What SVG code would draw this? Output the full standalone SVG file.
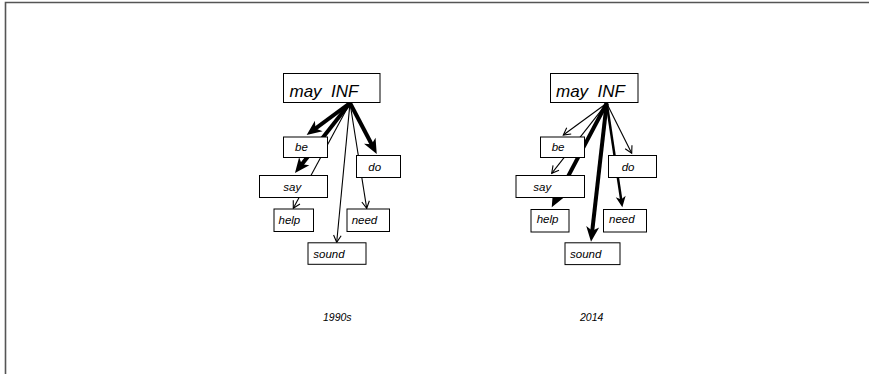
<svg xmlns="http://www.w3.org/2000/svg" width="869" height="374" viewBox="0 0 869 374">
<style>
  .frame{stroke:#555;stroke-width:1.6;fill:none}
  .box{fill:#fff;stroke:#000;stroke-width:1}
  .lbl{font-family:"Liberation Sans",Arial,sans-serif;font-style:italic;font-size:11.5px;fill:#000}
  .big{font-size:17px}
  .cap{font-family:"Liberation Sans",Arial,sans-serif;font-style:italic;font-size:10.5px;fill:#000}
  .thin{stroke:#000;stroke-width:1.1;fill:none;marker-end:url(#hThin)}
  .med{stroke:#000;stroke-width:2.5;fill:none;marker-end:url(#hMed)}
  .thick{stroke:#000;stroke-width:4;fill:none;marker-end:url(#hThick)}
</style>
<defs>
  <marker id="hThin" markerUnits="userSpaceOnUse" markerWidth="30" markerHeight="30" viewBox="-15 -15 30 30" refX="0" refY="0" orient="auto" overflow="visible">
    <path d="M-7,-3.8 L0,0 L-7,3.8" fill="none" stroke="#000" stroke-width="1.1"/>
  </marker>
  <marker id="hMed" markerUnits="userSpaceOnUse" markerWidth="30" markerHeight="30" viewBox="-15 -15 30 30" refX="0" refY="0" orient="auto" overflow="visible">
    <path d="M-6,-5 L5,0 L-6,5 L-3,0 Z" fill="#000"/>
  </marker>
  <marker id="hThick" markerUnits="userSpaceOnUse" markerWidth="30" markerHeight="30" viewBox="-15 -15 30 30" refX="0" refY="0" orient="auto" overflow="visible">
    <path d="M-8,-6.5 L7,0 L-8,6.5 L-4,0 Z" fill="#000"/>
  </marker>
</defs>
<rect width="869" height="374" fill="#fff"/>
<path class="frame" d="M5.5,374 L5.5,2.5 L869,2.5"/>

<g id="connectors">
  <!-- 1990s -->
  <line class="thick" x1="350" y1="103" x2="312.3" y2="130.8"/>
  <line class="thick" x1="350" y1="103" x2="299.3" y2="167.5"/>
  <line class="thin" x1="350" y1="103" x2="293.3" y2="208.3"/>
  <line class="thin" x1="350" y1="103" x2="336.7" y2="242.3"/>
  <line class="thin" x1="350" y1="103" x2="366.7" y2="208.3"/>
  <line class="thick" x1="350" y1="103" x2="373.5" y2="147.8"/>
  <!-- 2014 -->
  <line class="thin" x1="606.7" y1="103.3" x2="563.3" y2="135"/>
  <line class="thin" x1="606.7" y1="103.3" x2="551.7" y2="173.3"/>
  <line class="thick" x1="606.7" y1="103.3" x2="555.0" y2="201.1"/>
  <line class="thick" x1="606.7" y1="103.3" x2="591.8" y2="234.7"/>
  <line class="med" x1="606.7" y1="103.3" x2="621.6" y2="202.4"/>
  <line class="thin" x1="606.7" y1="103.3" x2="631.7" y2="153.3"/>
</g>

<!-- 1990s nodes -->
<g id="a-may"><rect class="box" x="283.5" y="73.5" width="96.5" height="29"/><text class="lbl big" x="289.5" y="96.5" xml:space="preserve">may  INF</text></g>
<g id="a-be"><rect class="box" x="283.5" y="137" width="44" height="20.5"/><text class="lbl" x="295" y="151">be</text></g>
<g id="a-do"><rect class="box" x="356.5" y="155.5" width="44" height="22"/><text class="lbl" x="368.3" y="171">do</text></g>
<g id="a-say"><rect class="box" x="259.5" y="175.5" width="68" height="22"/><text class="lbl" x="283.3" y="190.5">say</text></g>
<g id="a-help"><rect class="box" x="274" y="209" width="39.5" height="22.5"/><text class="lbl" x="278.5" y="223.5">help</text></g>
<g id="a-need"><rect class="box" x="347" y="209" width="42.5" height="22.5"/><text class="lbl" x="351.7" y="223.5">need</text></g>
<g id="a-sound"><rect class="box" x="308" y="242.8" width="58" height="21.5"/><text class="lbl" x="313.3" y="258">sound</text></g>
<text class="cap" x="323" y="321">1990s</text>

<!-- 2014 nodes -->
<g id="b-may"><rect class="box" x="550.5" y="73.5" width="87.5" height="29"/><text class="lbl big" x="556" y="96.5" xml:space="preserve">may  INF</text></g>
<g id="b-be"><rect class="box" x="540.5" y="137" width="44" height="20.5"/><text class="lbl" x="551.7" y="151">be</text></g>
<g id="b-do"><rect class="box" x="608.5" y="155.5" width="48" height="22"/><text class="lbl" x="621.7" y="171">do</text></g>
<g id="b-say"><rect class="box" x="516" y="175.5" width="68.5" height="22"/><text class="lbl" x="533.3" y="190.5">say</text></g>
<g id="b-help"><rect class="box" x="531" y="209.5" width="38" height="22.5"/><text class="lbl" x="536.7" y="223">help</text></g>
<g id="b-need"><rect class="box" x="603.5" y="209.5" width="43" height="22.5"/><text class="lbl" x="609" y="223">need</text></g>
<g id="b-sound"><rect class="box" x="565" y="242.8" width="55" height="21.8"/><text class="lbl" x="570" y="258">sound</text></g>
<text class="cap" x="580" y="321">2014</text>
</svg>
